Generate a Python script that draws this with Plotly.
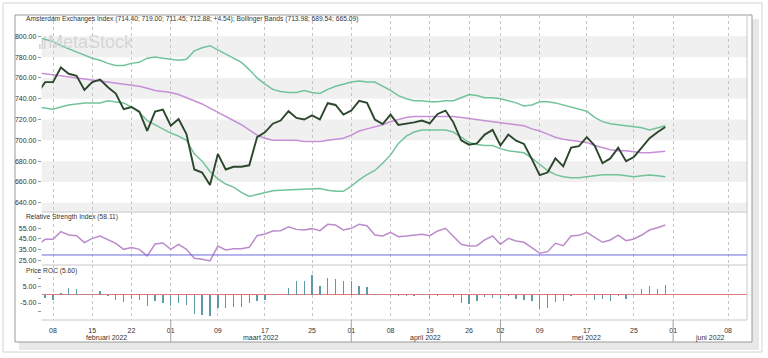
import plotly.graph_objects as go

W, H = 768, 358

trading_days = [
    "2022-02-04", "2022-02-07", "2022-02-08", "2022-02-09", "2022-02-10", "2022-02-11",
    "2022-02-14", "2022-02-15", "2022-02-16", "2022-02-17", "2022-02-18", "2022-02-21",
    "2022-02-22", "2022-02-23", "2022-02-24", "2022-02-25", "2022-02-28",
    "2022-03-01", "2022-03-02", "2022-03-03", "2022-03-04", "2022-03-07", "2022-03-08",
    "2022-03-09", "2022-03-10", "2022-03-11", "2022-03-14", "2022-03-15", "2022-03-16",
    "2022-03-17", "2022-03-18", "2022-03-21", "2022-03-22", "2022-03-23", "2022-03-24",
    "2022-03-25", "2022-03-28", "2022-03-29", "2022-03-30", "2022-03-31",
    "2022-04-01", "2022-04-04", "2022-04-05", "2022-04-06", "2022-04-07", "2022-04-08",
    "2022-04-11", "2022-04-12", "2022-04-13", "2022-04-14", "2022-04-19", "2022-04-20",
    "2022-04-21", "2022-04-22", "2022-04-25", "2022-04-26", "2022-04-27", "2022-04-28",
    "2022-04-29",
    "2022-05-02", "2022-05-03", "2022-05-04", "2022-05-05", "2022-05-06", "2022-05-09",
    "2022-05-10", "2022-05-11", "2022-05-12", "2022-05-13", "2022-05-16", "2022-05-17",
    "2022-05-18", "2022-05-19", "2022-05-20", "2022-05-23", "2022-05-24", "2022-05-25",
    "2022-05-26", "2022-05-27", "2022-05-30", "2022-05-31",
]

close = [
    745, 756, 756, 770, 764, 762, 748.5, 756, 758.5, 751, 745, 730, 732, 727.6, 709,
    727.6, 729.5, 714, 720.5, 706, 672, 669, 657, 687, 672, 674.6, 674.6, 676, 703,
    707.7, 716, 719, 728, 721.5, 720, 724, 720, 735.7, 734, 724.7, 728.6, 738, 736,
    720, 715.7, 724.7, 714.8, 715.7, 717.3, 719, 716.4, 725.4, 728.6, 717.3, 700,
    695.8, 697, 705.5, 710, 695, 705.5, 699.7, 696.5, 682, 666.6, 669, 682.6, 675,
    693, 694.5, 703, 695, 678, 682.6, 693, 680, 684, 693, 702, 707.7, 712.88,
]

bb_upper = [
    799, 797, 795, 791, 788, 785, 782, 779, 777, 774, 772, 772, 774, 775, 779, 780,
    779, 778, 777, 778, 786, 789, 791, 787, 783, 779, 775, 768, 760, 754, 749, 747,
    746, 746, 748, 746, 745, 749, 752, 754, 756, 757, 756, 756, 752, 748, 743, 740,
    738, 738, 737, 737, 738, 738, 741, 744, 743, 741, 741, 740, 738, 736, 733, 734,
    737, 737, 736, 734, 732, 730, 728, 722, 718, 716, 715, 714, 713, 712, 710, 712,
    713.98,
]

bb_mid = [
    765, 764, 763, 762, 761, 760, 759, 758, 757, 756, 755, 754, 753, 752, 750, 748,
    747, 746, 744, 741, 738, 735, 731, 727, 723, 719, 715, 710, 705, 702, 700, 700,
    700, 700, 699, 699, 699, 700, 701, 702, 705, 709, 711, 713, 715, 718, 720, 722,
    723, 723, 723, 723, 723, 723, 722, 721, 720, 719, 718, 717, 716, 715, 714, 711,
    709, 706, 703, 701, 700, 699, 698, 695, 693, 691, 690, 690, 689, 688, 688, 689,
    689.54,
]

bb_lower = [
    732, 731, 730, 732, 734, 735, 736, 736, 736, 738, 737, 736, 732, 727, 719, 715,
    711, 707, 704, 700, 687, 680, 670, 663, 658, 655, 650, 646, 648, 650, 651.5, 652,
    652.4, 653, 653, 653.5, 653.7, 652, 651, 651, 656, 662, 667, 671, 678, 686, 697,
    704, 708, 710, 710, 710, 710, 708, 703, 698, 696, 695, 695, 692, 690, 689, 688,
    683, 677, 671, 667, 665, 664, 664, 665, 666, 667, 667, 667, 666, 665, 666, 666.6,
    666, 665.09,
]

rsi = [
    39, 44.7, 44.7, 51.9, 48.7, 48.1, 41.6, 45.6, 47.8, 44.7, 40.9, 35.3, 36.9, 35.3,
    29.1, 40.3, 41.2, 35.3, 40, 35.3, 26.9, 25.9, 24.4, 38.4, 34.7, 35.9, 35.9, 37.2,
    48.1, 49.7, 52.5, 52.8, 56.5, 54, 53.4, 54.7, 52.8, 58.7, 58.1, 53.4, 55, 58.7,
    57.5, 48.7, 47.8, 51.2, 47.2, 47.8, 48.7, 49.4, 48.1, 52.5, 55, 47.2, 40, 38.4,
    38.7, 44.1, 47.8, 40, 45.6, 43.1, 41.9, 36.9, 31.6, 33.1, 40.9, 38.7, 47.8, 48.4,
    51.2, 46.6, 41.9, 44.1, 48.7, 43.4, 45, 48.7, 53.4, 55.6, 58.11,
]

roc = [
    -1, -2, -3, 1, 4, 3.5, 0.3, 0.2, 2, -0.5, -3, -4.5, -2.5, -3, -6.5, -4, -5, -6.5,
    -5, -6, -11.5, -12, -13, -8, -8, -7.5, -7.5, -5, -3.5, -3, 0.2, -0.2, 4, 8, 8, 12,
    5.5, 10, 9.5, 8.5, 8.5, 5.5, 4.5, 0.2, -0.2, -0.5, -1, -0.5, -1, 0.2, -2.5, -1,
    0.5, -1.5, -5, -5.5, -3.5, -1.5, -2, -2.5, -1, -2.5, -3, -4, -8.5, -8, -4.5, -3.5,
    -0.5, 0.1, -0.2, -3, -2.5, -3.5, -1, -2.5, 0.2, 3.5, 5, 3.5, 5.6,
]

tick_idx = [2, 7, 12, 17, 23, 29, 35, 40, 45, 50, 55, 59, 64, 70, 76, 81, 88]
tick_text = ["08", "15", "22", "01", "09", "17", "25", "01", "08", "19", "26",
             "02", "09", "17", "25", "01", "08"]
month_start_idx = [17, 40, 59, 81]
month_labels = ["februari 2022", "maart 2022", "april 2022", "mei 2022", "juni 2022"]

price_ticks = [640, 660, 680, 700, 720, 740, 760, 780, 800]
price_bands = [(620, 640), (660, 680), (700, 720), (740, 760), (780, 800)]
rsi_ticks = [25, 35, 45, 55]
rsi_level = 30
roc_ticks = [-10, -5, 5, 10]
roc_tick_text = ["", "-5.00", "5.00", ""]

title_main = ("Amsterdam Exchanges Index (714.40; 719.00; 711.45; 712.88; +4.54); "
              "Bollinger Bands (713.98; 689.54; 665.09)")
title_rsi = "Relative Strength Index (58.11)"
title_roc = "Price ROC (5.60)"

# ---- layout geometry (pixels) ----
def px(x):
    return x / W

def py(y):
    return 1 - y / H

PL, PR = 41.7, 747
X_RANGE = [0.56, 90.41]
MAIN_T, MAIN_B = 15, 212
RSI_B = 265
ROC_B = 320
FRAME_B = 342

FONT = "Liberation Sans, Arial, sans-serif"
TXT = "#333333"
x = list(range(len(close)))

fig = go.Figure()
fig.add_trace(go.Scatter(x=x, y=bb_upper, mode="lines", line=dict(color="#72c39a", width=1.5),
                         xaxis="x", yaxis="y"))
fig.add_trace(go.Scatter(x=x, y=bb_lower, mode="lines", line=dict(color="#72c39a", width=1.5),
                         xaxis="x", yaxis="y"))
fig.add_trace(go.Scatter(x=x, y=bb_mid, mode="lines", line=dict(color="#c68fd6", width=1.5),
                         xaxis="x", yaxis="y"))
fig.add_trace(go.Scatter(x=x, y=close, mode="lines", line=dict(color="#2c472c", width=1.9),
                         xaxis="x", yaxis="y"))
fig.add_trace(go.Scatter(x=x, y=rsi, mode="lines", line=dict(color="#bb8bcb", width=1.5),
                         xaxis="x2", yaxis="y2"))
fig.add_trace(go.Bar(x=x, y=roc, width=0.17, marker=dict(color="#5c9aa6", line=dict(width=0)),
                     xaxis="x3", yaxis="y3"))

xcommon = dict(domain=[px(PL), px(PR)], range=X_RANGE, tickvals=tick_idx, ticktext=tick_text,
               showgrid=True, gridcolor="#c6c6c6", griddash="dot", gridwidth=1,
               zeroline=False, showline=False, ticks="", fixedrange=True)
ycommon = dict(showgrid=False, zeroline=False, showline=False, ticks="outside", ticklen=3,
               tickcolor="#999999", tickfont=dict(family=FONT, size=7, color=TXT), fixedrange=True)

fig.update_layout(
    width=W, height=H, margin=dict(l=0, r=0, t=0, b=0),
    paper_bgcolor="white", plot_bgcolor="rgba(0,0,0,0)",
    showlegend=False, hovermode=False, bargap=0,
    xaxis=dict(xcommon, anchor="y", showticklabels=False),
    xaxis2=dict(xcommon, anchor="y2", showticklabels=False, matches="x"),
    xaxis3=dict(xcommon, anchor="y3", showticklabels=True, matches="x",
                ticks="outside", ticklen=4, tickcolor="rgba(0,0,0,0)",
                tickfont=dict(family=FONT, size=7, color=TXT)),
    yaxis=dict(ycommon, domain=[py(MAIN_B), py(MAIN_T)], range=[631.1, 820.5],
               tickvals=price_ticks, tickformat=".2f", anchor="x"),
    yaxis2=dict(ycommon, domain=[py(RSI_B), py(MAIN_B)], range=[20.6, 70.3],
                tickvals=rsi_ticks, tickformat=".2f", anchor="x2"),
    yaxis3=dict(ycommon, domain=[py(ROC_B), py(RSI_B)], range=[-15.2, 17.8],
                tickvals=roc_ticks, ticktext=roc_tick_text, anchor="x3",
                zeroline=True, zerolinecolor="#e07a7a", zerolinewidth=1),
)

shapes = []
# outer box, shadow, inner frame
shapes.append(dict(type="rect", xref="paper", yref="paper", x0=px(3), x1=px(762), y0=py(352), y1=py(3),
                   line=dict(color="#d4d4d4", width=1), fillcolor="white", layer="below"))
shapes.append(dict(type="rect", xref="paper", yref="paper", x0=px(19), x1=px(759), y0=py(350), y1=py(19),
                   line=dict(width=0), fillcolor="#e8e8e8", layer="below"))
shapes.append(dict(type="rect", xref="paper", yref="paper", x0=px(15), x1=px(752), y0=py(FRAME_B), y1=py(15),
                   line=dict(color="#9a9a9a", width=1), fillcolor="white", layer="below"))
# price bands
for lo, hi in price_bands:
    shapes.append(dict(type="rect", xref="paper", yref="y", x0=px(PL), x1=px(PR), y0=lo, y1=hi,
                       line=dict(width=0), fillcolor="#f0f0f0", layer="below"))
# panel borders
for yb in (MAIN_B, RSI_B, ROC_B):
    shapes.append(dict(type="line", xref="paper", yref="paper", x0=px(PL), x1=px(PR), y0=py(yb), y1=py(yb),
                       line=dict(color="#c8c8c8", width=1), layer="above"))
shapes.append(dict(type="line", xref="paper", yref="paper", x0=px(PR), x1=px(PR), y0=py(ROC_B), y1=py(MAIN_T),
                   line=dict(color="#c8c8c8", width=1), layer="above"))
# RSI level line
shapes.append(dict(type="line", xref="x2 domain", yref="y2", x0=0, x1=1, y0=rsi_level, y1=rsi_level,
                   line=dict(color="#6b6bdc", width=1), layer="above"))
# month separators
for m in month_start_idx:
    shapes.append(dict(type="line", xref="x3", yref="paper", x0=m, x1=m, y0=py(FRAME_B), y1=py(ROC_B),
                       line=dict(color="#a0a0a0", width=1), layer="above"))
# watermark icon bars
for x0, top in [(39, 44), (41.5, 40), (44, 36)]:
    shapes.append(dict(type="rect", xref="paper", yref="paper", x0=px(x0), x1=px(x0 + 1.6),
                       y0=py(49), y1=py(top), line=dict(width=0), fillcolor="#d6d6d6", layer="below"))
fig.update_layout(shapes=shapes)

ann = []
ann.append(dict(text="MetaStock", xref="paper", yref="paper", x=px(46), y=py(41.5), xanchor="left",
                yanchor="middle", showarrow=False, font=dict(family=FONT, size=18, color="#d6d6d6")))
for t, yy in ((title_main, 18.5), (title_rsi, 217.5), (title_roc, 270.5)):
    ann.append(dict(text=t, xref="paper", yref="paper", x=px(24), y=py(yy), xanchor="left",
                    yanchor="middle", showarrow=False, font=dict(family=FONT, size=6.7, color=TXT)))
bounds = [X_RANGE[0]] + month_start_idx + [X_RANGE[1]]
for i, lab in enumerate(month_labels):
    ann.append(dict(text=lab, xref="x3", yref="paper", x=(bounds[i] + bounds[i + 1]) / 2, y=py(337.5),
                    xanchor="center", yanchor="middle", showarrow=False,
                    font=dict(family=FONT, size=7, color=TXT)))
fig.update_layout(annotations=ann)

fig.write_html("out.html", config={"displayModeBar": False, "staticPlot": True},
               post_script="document.body.style.margin='0px';")
